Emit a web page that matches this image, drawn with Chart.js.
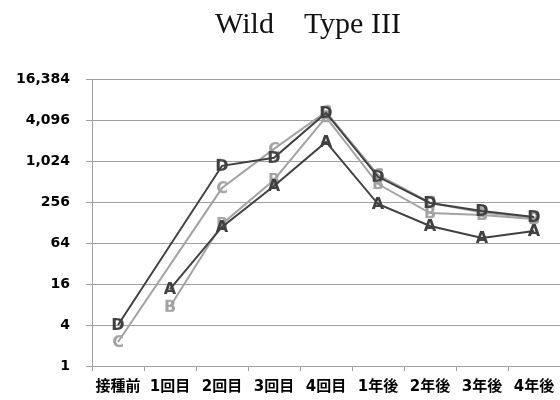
<!DOCTYPE html>
<html>
<head>
<meta charset="utf-8">
<script src="https://cdn.jsdelivr.net/npm/chart.js@4.4.1/dist/chart.umd.min.js"></script>
<style>
  html, body { margin: 0; padding: 0; background: #fff; }
  #wrap { width: 560px; height: 400px; }
</style>
</head>
<body>
<div id="wrap"><canvas id="chart" width="560" height="400"></canvas></div>
<script>
// data
const titleText = 'Wild\u3000Type III'
const categories = ['接種前', '1回目', '2回目', '3回目', '4回目', '1年後', '2年後', '3年後', '4年後']
const yTicks = [1, 4, 16, 64, 256, 1024, 4096, 16384]
const seriesA = [null, 13.5, 110, 440, 1950, 239, 114, 76, 96]
const seriesB = [null, 7.4, 122, 540, 4500, 470, 176, 165, 144]
const seriesC = [2.25, null, 410, 1540, 5400, 640, 250, 180, 150]
const seriesD = [4, null, 870, 1140, 5200, 600, 248, 189, 154]

const DARK = '#404040'
const LIGHT = '#a3a3a3'

// letter markers
function letterMarker(ch, color) {
    const c = document.createElement('canvas')
    c.width = 18
    c.height = 18
    const g = c.getContext('2d')
    g.font = 'bold 16px "DejaVu Sans", sans-serif'
    g.fillStyle = color
    g.textAlign = 'center'
    g.textBaseline = 'middle'
    g.fillText(ch, 9, 10)
    return c
}

function makeSet(label, data, color, order) {
    return {
        label: label,
        data: data,
        borderColor: color,
        backgroundColor: color,
        borderWidth: 2,
        pointStyle: letterMarker(label, color),
        pointRadius: 9,
        spanGaps: true,
        tension: 0,
        order: order
    }
}

// title drawn over the canvas
const titlePlugin = {
    id: 'topTitle',
    afterDraw(chart) {
        const ctx = chart.ctx
        ctx.save()
        ctx.font = '30px "Liberation Serif", "Times New Roman", serif'
        ctx.fillStyle = '#111'
        ctx.textAlign = 'center'
        ctx.textBaseline = 'alphabetic'
        ctx.fillText(titleText, 308, 33)
        ctx.restore()
    }
}

const ctx = document.getElementById('chart').getContext('2d')
new Chart(ctx, {
    type: 'line',
    data: {
        labels: categories,
        datasets: [
            makeSet('A', seriesA, DARK, 1),
            makeSet('B', seriesB, LIGHT, 2),
            makeSet('C', seriesC, LIGHT, 3),
            makeSet('D', seriesD, DARK, 0)
        ]
    },
    options: {
        responsive: false,
        animation: false,
        layout: { autoPadding: false, padding: { top: 79, left: 15, right: 0, bottom: 0 } },
        plugins: {
            legend: { display: false },
            title: { display: false },
            tooltip: { enabled: false }
        },
        scales: {
            x: {
                offset: true,
                afterFit: function(scale) {
                    scale.height = 34
                    scale.paddingLeft = 0
                    scale.paddingRight = 0
                },
                grid: {
                    offset: true,
                    drawOnChartArea: false,
                    tickLength: 5,
                    color: '#a0a0a0'
                },
                border: { color: '#a0a0a0' },
                ticks: {
                    color: '#000',
                    padding: 7,
                    maxRotation: 0,
                    autoSkip: false,
                    font: { family: '"DejaVu Sans", "Noto Sans CJK JP", sans-serif', size: 15, weight: 'bold' }
                }
            },
            y: {
                type: 'logarithmic',
                min: 1,
                max: 16384,
                afterBuildTicks: function(scale) {
                    scale.ticks = yTicks.map(v => ({ value: v }))
                },
                afterFit: function(scale) {
                    scale.width = 77
                },
                grid: {
                    color: '#a0a0a0',
                    tickLength: 6
                },
                border: { color: '#a0a0a0' },
                ticks: {
                    color: '#000',
                    padding: 16,
                    font: { family: '"DejaVu Sans", sans-serif', size: 14, weight: 'bold' },
                    callback: function(value) {
                        return Number(value).toLocaleString('en-US')
                    }
                }
            }
        }
    },
    plugins: [titlePlugin]
})
</script>
</body>
</html>
